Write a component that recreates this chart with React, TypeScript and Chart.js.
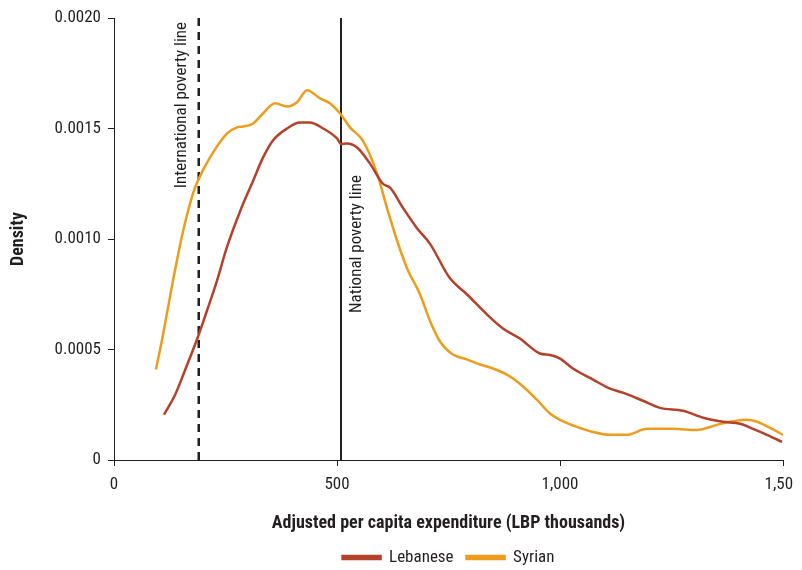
import React, { useEffect, useRef } from "react";
import { Chart, registerables } from "chart.js";

Chart.register(...registerables);

const xTicks = [0, 500, 1000, 1500];
const yTicks = [0, 0.0005, 0.001, 0.0015, 0.002];

const lebaneseX = [112, 137, 159, 186, 208, 231, 253, 283, 312, 334, 356, 388, 417, 439, 469, 500, 509, 522, 545, 574, 603, 619, 648, 679, 709, 753, 791, 836, 872, 910, 955, 978, 1000, 1029, 1074, 1112, 1141, 1186, 1224, 1276, 1321, 1365, 1404, 1433, 1464, 1498];
const lebaneseY = [0.000205, 0.000295, 0.000405, 0.000545, 0.000673, 0.000812, 0.000962, 0.001127, 0.001264, 0.001368, 0.001445, 0.0015, 0.001527, 0.001527, 0.0015, 0.001455, 0.00143, 0.001432, 0.001414, 0.001341, 0.00125, 0.001232, 0.001141, 0.00105, 0.000977, 0.000823, 0.00075, 0.000659, 0.000595, 0.00055, 0.000482, 0.000475, 0.000459, 0.000414, 0.000364, 0.000323, 0.000305, 0.000268, 0.000236, 0.000223, 0.000191, 0.000173, 0.000164, 0.000141, 0.000114, 0.000082];

const syrianX = [94, 110, 132, 155, 177, 188, 215, 253, 276, 290, 312, 334, 361, 388, 410, 433, 462, 484, 507, 529, 558, 590, 612, 635, 657, 686, 709, 731, 760, 791, 821, 850, 881, 910, 948, 978, 1000, 1038, 1074, 1112, 1150, 1195, 1253, 1307, 1352, 1381, 1419, 1442, 1471, 1500];
const syrianY = [0.000409, 0.000568, 0.000809, 0.001036, 0.001205, 0.001264, 0.001368, 0.001477, 0.001505, 0.001509, 0.001523, 0.001568, 0.001614, 0.0016, 0.001618, 0.001673, 0.001636, 0.001614, 0.001568, 0.001505, 0.001445, 0.001295, 0.001141, 0.000991, 0.000868, 0.00075, 0.000627, 0.000536, 0.000477, 0.000455, 0.000432, 0.000414, 0.000386, 0.000345, 0.000273, 0.000209, 0.000182, 0.00015, 0.000127, 0.000114, 0.000114, 0.000141, 0.000141, 0.000136, 0.000159, 0.000173, 0.000182, 0.000173, 0.000145, 0.000114];

const internationalPovertyLine = 190;
const nationalPovertyLine = 509;
const seriesNames = ["Lebanese", "Syrian"];
const lineLabels = ["International poverty line", "National poverty line"];

const FONT = "'Roboto Condensed', 'DejaVu Sans Condensed', sans-serif";
const TEXT = "#231f20";
const LEB = "#b5412a";
const SYR = "#ee9c1c";

const labelPlugin = {
  id: "povertyLabels",
  afterDatasetsDraw(chart: any) {
    const { ctx, chartArea, scales } = chart;
    const x = scales.x;
    ctx.save();
    ctx.fillStyle = TEXT;
    ctx.font = `17px ${FONT}`;
    ctx.textBaseline = "alphabetic";
    ctx.save();
    ctx.translate(x.getPixelForValue(internationalPovertyLine) - 13, chartArea.top + 4);
    ctx.rotate(-Math.PI / 2);
    ctx.textAlign = "right";
    ctx.fillText(lineLabels[0], 0, 0);
    ctx.restore();
    ctx.save();
    ctx.translate(x.getPixelForValue(nationalPovertyLine) + 20, chartArea.top + 295);
    ctx.rotate(-Math.PI / 2);
    ctx.textAlign = "left";
    ctx.fillText(lineLabels[1], 0, 0);
    ctx.restore();
    ctx.restore();
  },
};

export default function App() {
  const ref = useRef<HTMLCanvasElement>(null);
  useEffect(() => {
    const chart = new Chart(ref.current as HTMLCanvasElement, {
      type: "line",
      data: {
        datasets: [
          {
            label: seriesNames[0],
            data: lebaneseX.map((x, i) => ({ x, y: lebaneseY[i] })),
            borderColor: LEB,
            backgroundColor: LEB,
            borderWidth: 2.5,
            pointRadius: 0,
            cubicInterpolationMode: "monotone",
            fill: false,
          },
          {
            label: seriesNames[1],
            data: syrianX.map((x, i) => ({ x, y: syrianY[i] })),
            borderColor: SYR,
            backgroundColor: SYR,
            borderWidth: 2.5,
            pointRadius: 0,
            cubicInterpolationMode: "monotone",
            fill: false,
          },
          {
            label: "ipl",
            data: [
              { x: internationalPovertyLine, y: 0 },
              { x: internationalPovertyLine, y: yTicks[yTicks.length - 1] },
            ],
            borderColor: "#231f20",
            borderWidth: 2.5,
            borderDash: [8, 6],
            pointRadius: 0,
            fill: false,
          },
          {
            label: "npl",
            data: [
              { x: nationalPovertyLine, y: 0 },
              { x: nationalPovertyLine, y: yTicks[yTicks.length - 1] },
            ],
            borderColor: "#231f20",
            borderWidth: 2,
            pointRadius: 0,
            fill: false,
          },
        ],
      },
      options: {
        animation: false,
        responsive: true,
        maintainAspectRatio: false,
        layout: { padding: { top: 0, left: 0, right: 0, bottom: 0 } },
        plugins: {
          legend: {
            position: "bottom",
            fullSize: false,
            maxHeight: 34,
            labels: {
              filter: (item: any) => seriesNames.includes(item.text),
              boxWidth: 38,
              boxHeight: 3,
              padding: 13,
              color: TEXT,
              font: { family: FONT, size: 17 },
            },
          },
          tooltip: { enabled: false },
        },
        scales: {
          x: {
            type: "linear",
            min: xTicks[0],
            max: xTicks[xTicks.length - 1],
            afterBuildTicks: (s: any) => {
              s.ticks = xTicks.map((v) => ({ value: v }));
            },
            afterFit: (s: any) => {
              s.paddingLeft = 0;
              s.paddingRight = 19;
            },
            grid: { drawOnChartArea: false, color: "#231f20", tickLength: 6, tickColor: "#231f20" },
            border: { color: "#231f20", width: 1 },
            ticks: {
              color: TEXT,
              font: { family: FONT, size: 17 },
              padding: 9,
              maxRotation: 0,
              callback: (v: any) => Number(v).toLocaleString("en-US"),
            },
            title: {
              display: true,
              text: "Adjusted per capita expenditure (LBP thousands)",
              color: TEXT,
              font: { family: FONT, size: 18, weight: "bold" },
              padding: { top: 8, bottom: 2 },
            },
          },
          y: {
            min: yTicks[0],
            max: yTicks[yTicks.length - 1],
            afterBuildTicks: (s: any) => {
              s.ticks = yTicks.map((v) => ({ value: v }));
            },
            afterFit: (s: any) => {
              s.width = 106;
              s.paddingTop = 10;
              s.paddingBottom = 0;
            },
            grid: { drawOnChartArea: false, color: "#231f20", tickLength: 6, tickColor: "#231f20" },
            border: { color: "#231f20", width: 1 },
            ticks: {
              color: TEXT,
              font: { family: FONT, size: 17 },
              padding: 7,
              callback: (v: any) => (Number(v) === 0 ? "0" : Number(v).toFixed(4)),
            },
            title: {
              display: true,
              text: "Density",
              color: TEXT,
              font: { family: FONT, size: 18, weight: "bold" },
              padding: { top: 0, bottom: 0 },
            },
          },
        },
      },
      plugins: [labelPlugin],
    });
    return () => chart.destroy();
  }, []);
  return (
    <div style={{ width: 794, height: 562 }}>
      <canvas ref={ref} />
    </div>
  );
}
